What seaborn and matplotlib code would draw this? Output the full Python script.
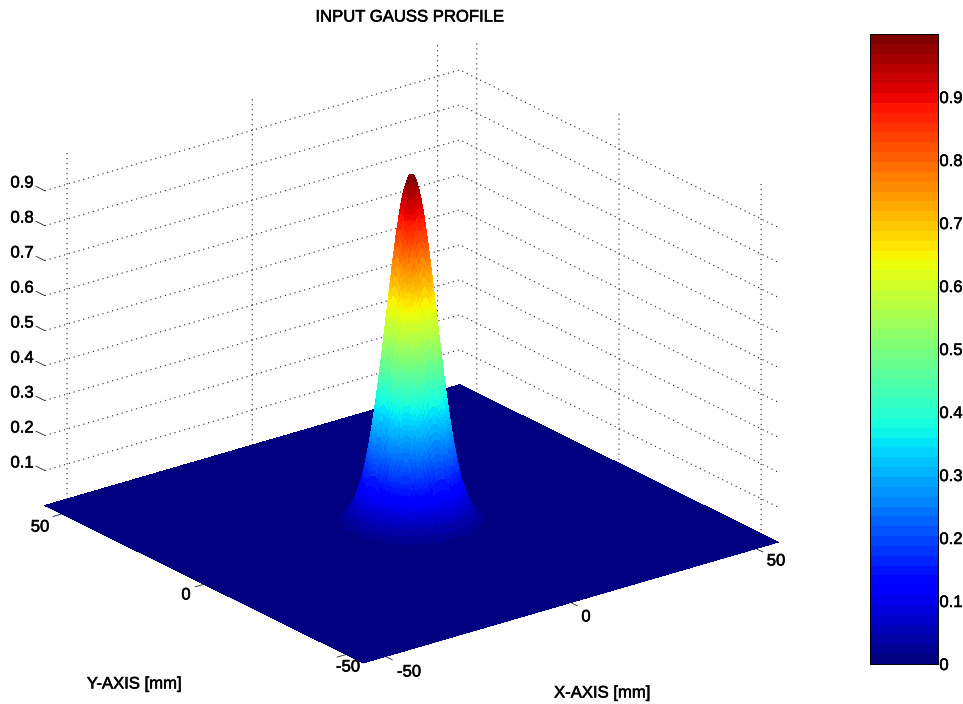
import numpy as np
import matplotlib
matplotlib.use("Agg")
import matplotlib.pyplot as plt
import matplotlib.patheffects as pe
from matplotlib.cm import ScalarMappable
from matplotlib.colors import Normalize
import seaborn as sns

W, H = 963, 704

# half profile through the beam centre
radius_mm = [0, 0.5, 1, 1.25, 1.5, 1.75, 2, 2.25, 2.5, 2.75, 3, 3.25, 3.5, 3.75, 4, 4.25,
             4.5, 4.75, 5, 5.25, 5.5, 5.75, 6, 6.25, 6.5, 6.75, 7, 7.25, 7.5, 7.75, 8,
             8.25, 8.5, 8.75, 9, 9.25, 9.5, 9.75, 10, 10.5, 11, 11.5, 12, 12.5, 13, 13.5,
             14, 15, 16, 17, 18, 20, 56]
intensity = [1.0, 0.996, 0.982, 0.973, 0.961, 0.947, 0.931, 0.914, 0.895, 0.874, 0.852,
             0.829, 0.804, 0.779, 0.752, 0.725, 0.697, 0.669, 0.641, 0.612, 0.584, 0.555,
             0.527, 0.499, 0.471, 0.444, 0.418, 0.392, 0.367, 0.343, 0.320, 0.298, 0.276,
             0.256, 0.237, 0.218, 0.201, 0.184, 0.169, 0.141, 0.116, 0.095, 0.077, 0.062,
             0.049, 0.039, 0.031, 0.018, 0.011, 0.006, 0.003, 0.001, 0.0]

xy_ticks = [-50, 0, 50]
xy_labels = ["-50", "0", "50"]
z_ticks = [0.1, 0.2, 0.3, 0.4, 0.5, 0.6, 0.7, 0.8, 0.9]
z_labels = ["0.1", "0.2", "0.3", "0.4", "0.5", "0.6", "0.7", "0.8", "0.9"]
cbar_ticks = [0, 0.1, 0.2, 0.3, 0.4, 0.5, 0.6, 0.7, 0.8, 0.9]
cbar_labels = ["0", "0.1", "0.2", "0.3", "0.4", "0.5", "0.6", "0.7", "0.8", "0.9"]

sns.set_theme(style="white")
plt.rcParams["font.family"] = ["Liberation Sans", "DejaVu Sans"]
plt.rcParams["text.color"] = "black"
plt.rcParams["axes.unicode_minus"] = False
plt.rcParams["grid.color"] = "#222222"
plt.rcParams["grid.linestyle"] = (0, (1, 3.5))
plt.rcParams["grid.linewidth"] = 0.8

jet = plt.get_cmap("jet", 64)
heavier = [pe.withStroke(linewidth=0.4, foreground="black")]

r = np.array(radius_mm)
p = np.array(intensity)
grid = np.concatenate([-r[::-1], r[1:]])
prof = np.concatenate([p[::-1], p[1:]])
X, Y = np.meshgrid(grid, grid)
Z = np.outer(prof, prof)

fig = plt.figure(figsize=(W / 100, H / 100), dpi=100)

# 672 px square axes, zoom set so the floor comes out the right size
S = 672
ax = fig.add_axes([66.4 / W, 10 / H, S / W, S / H], projection="3d", proj_type="ortho")
ax.view_init(elev=22.3, azim=-127.5)
ax.set_box_aspect((523, 523, 378), zoom=1.2)
ax.set_xlim(-56, 56, view_margin=0)
ax.set_ylim(-56, 56, view_margin=0)
ax.set_zlim(0, 1, view_margin=0)

surf = ax.plot_surface(X, Y, Z, cmap=jet, vmin=0, vmax=1, rstride=1, cstride=1,
                       linewidth=0, antialiased=False, shade=False)
surf.set_clip_on(False)

# tick marks stay on the axes, the labels are put where the original has them
ax.set_xticks(xy_ticks, ["", "", ""])
ax.set_yticks(xy_ticks, ["", "", ""])
ax.set_zticks(z_ticks, [""] * len(z_ticks))
# z ticks run along y in the original
ax.zaxis._get_tickdir = lambda position: 1

for axis, out in ((ax.xaxis, -0.27), (ax.yaxis, -0.27), (ax.zaxis, 0.35)):
    axis.set_pane_color((1, 1, 1, 0))
    axis.pane.set_edgecolor((1, 1, 1, 0))
    axis.line.set_linewidth(0.5)
    axis.line.set_color("black")
    axis._axinfo["tick"]["inward_factor"] = 0
    axis._axinfo["tick"]["outward_factor"] = out
    axis._axinfo["tick"]["linewidth"] = {True: 0.6, False: 0.5}
ax.zaxis.line.set_visible(False)


def put_text(px, py, s):
    fig.text(px / W, 1 - py / H, s, ha="center", va="center", fontsize=12, color="black",
             path_effects=heavier)


for lab, px, py in zip(xy_labels, [409, 586, 776], [672, 617, 561]):
    put_text(px, py, lab)
for lab, px, py in zip(xy_labels, [348, 186, 40], [667, 595, 527]):
    put_text(px, py, lab)
for lab, py in zip(z_labels, [463, 428, 393, 358, 323, 288, 253, 218, 183]):
    put_text(22, py, lab)

put_text(409.5, 17, "INPUT GAUSS PROFILE")
put_text(602, 693, "X-AXIS [mm]")
put_text(134, 684, "Y-AXIS [mm]")

cax = fig.add_axes([870 / W, 1 - 664 / H, 68 / W, 630 / H])
cb = fig.colorbar(ScalarMappable(norm=Normalize(0, 1), cmap=jet), cax=cax)
cb.set_ticks(cbar_ticks, labels=cbar_labels)
cax.yaxis.set_ticks_position("both")
cax.tick_params(axis="y", direction="in", length=3.6, width=0.6, color="black",
                labelright=True, labelleft=False, labelsize=12, labelcolor="black", pad=1)
for tl in cax.get_yticklabels():
    tl.set_path_effects(heavier)
cb.outline.set_linewidth(0.7)
cb.outline.set_edgecolor("black")

fig.savefig("out.png", dpi=100)
